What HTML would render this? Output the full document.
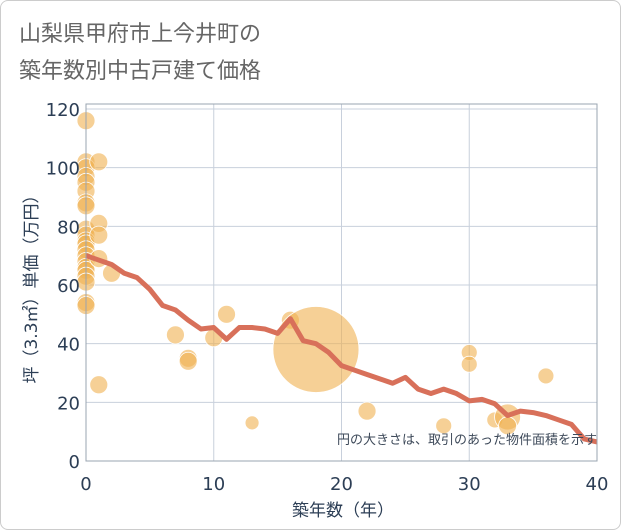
<!DOCTYPE html>
<html><head><meta charset="utf-8"><style>
body{margin:0;background:#fff;font-family:"Liberation Sans","Noto Sans CJK JP",sans-serif;}
#wrap{position:relative;width:619px;height:528px;border:1px solid #ccc;border-radius:8px;overflow:hidden;}
</style></head><body>
<div id="wrap">
<svg id="chart" width="621" height="530" font-family="'DejaVu Sans','Noto Sans CJK JP',sans-serif">
<text x="18" y="40" font-size="22" fill="#666" font-family="'Noto Sans CJK JP',sans-serif">山梨県甲府市上今井町の</text>
<text x="18" y="77" font-size="22" fill="#666" font-family="'Noto Sans CJK JP',sans-serif">築年数別中古戸建て価格</text>
<g id="grid"></g><g id="bubbles"></g><g id="line"></g><g id="axes"></g>
<text x="596" y="443" font-size="13" fill="#3e4a5a" text-anchor="end" font-family="'Noto Sans CJK JP',sans-serif">円の大きさは、取引のあった物件面積を示す</text>
<text x="342" y="515" font-size="17" fill="#2c3e55" text-anchor="middle" font-family="'DejaVu Sans','Noto Sans CJK JP',sans-serif">築年数（年）</text>
<text transform="translate(36,284) rotate(-90)" font-size="17" fill="#2c3e55" text-anchor="middle" font-family="'DejaVu Sans','Noto Sans CJK JP',sans-serif">坪（3.3㎡）単価（万円）</text>
</svg></div>
<script>
const xTicks=[0,10,20,30,40];
const yTicks=[0,20,40,60,80,100,120];
const lineYears=[0,1,2,3,4,5,6,7,8,9,10,11,12,13,14,15,16,17,18,19,20,21,22,23,24,25,26,27,28,29,30,31,32,33,34,35,36,37,38,39,40];
const lineValues=[70,68.5,67,64,62.5,58.5,53,51.5,48,45,45.5,41.5,45.5,45.5,45,43.5,48.5,41,40,37,32.5,31,29.5,28,26.5,28.5,24.5,23,24.5,23,20.5,21,19.5,15.5,17,16.5,15.5,14,12.5,7.5,6.5];
const ptX=[0,0,0,0,0,0,0,0,0,0,0,0,0,0,0,0,0,0,0,0,0,1,1,1,1,1,2,7,8,8,10,11,13,16,18,22,28,30,30,32,33,33,36];
const ptY=[116,102,100,97,95,92,88,87,79,77,75,74,72,70,68,66,65,63,61,54,53,102,81,77,69,26,64,43,35,34,42,50,13,48,38,17,12,37,33,14,15,12,29];
const ptR=[9,9,9,9,9,9,9,9,9,9,9,9,9,9,9,9,9,9,9,9,9,9,9,9,9,9,9,9,9,9,9,9,7,9,43,9,8,8,8,8,13,9,8];
const X0=85,X1=596,Y0=460,Y1=108;
const sx=v=>X0+(v-0)/40*(X1-X0);
const sy=v=>Y0-(v/120)*(Y0-Y1);
const NS="http://www.w3.org/2000/svg";
function mk(t,p,parent){const e=document.createElementNS(NS,t);for(const k in p)e.setAttribute(k,p[k]);parent.appendChild(e);return e;}
const grid=document.getElementById('grid'),axes=document.getElementById('axes');
for(const t of xTicks){
 const l=mk('line',{x1:sx(t),x2:sx(t),y1:103,y2:Y0,stroke:'#c8d0dc'},grid);
 
 
 const tx=mk('text',{x:sx(t),y:489,'font-size':18,fill:'#2c3e55','text-anchor':'middle'},axes);
 tx.textContent=t;
 
 
}
for(const t of yTicks){
 const l=mk('line',{x1:X0,x2:X1,y1:sy(t),y2:sy(t),stroke:'#c8d0dc'},grid);
 
 
 const tx=mk('text',{x:79,y:sy(t)+7,'font-size':18,fill:'#2c3e55','text-anchor':'end'},axes);
 tx.textContent=t;
 
 
}
const fr=mk('rect',{x:X0,y:103,width:X1-X0,height:Y0-103,fill:'none',stroke:'#9aa4b0'},axes);


const bub=document.getElementById('bubbles');
for(let i=0;i<ptX.length;i++){
 const c=mk('circle',{cx:sx(ptX[i]),cy:sy(ptY[i]),r:ptR[i],fill:'#f0b050','fill-opacity':0.6,stroke:'#fff','stroke-width':0.8},bub);
 
 
}
const pts=lineYears.map((y,i)=>sx(y)+','+sy(lineValues[i])).join(' ');
const pl=mk('polyline',{points:pts,fill:'none',stroke:'#d8705a','stroke-width':5,'stroke-linejoin':'round'},document.getElementById('line'));


</script>
</body></html>
